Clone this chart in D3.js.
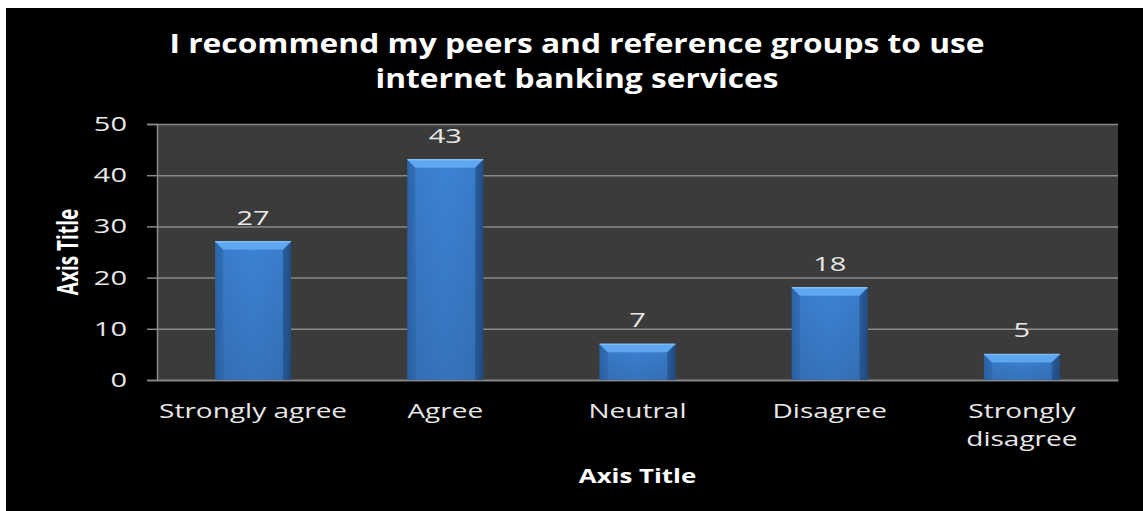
<!DOCTYPE html>
<html>
<head>
<meta charset="utf-8">
<script src="https://cdn.jsdelivr.net/npm/d3@7"></script>
<style>
  html, body { margin: 0; padding: 0; background: #ffffff; }
  svg { display: block; }
</style>
</head>
<body>
<svg id="chart" width="1143" height="511"></svg>
<script>
// Survey responses: recommending internet banking to peers
const categories = ["Strongly agree", "Agree", "Neutral", "Disagree", "Strongly disagree"];
const categoryLines = [["Strongly agree"], ["Agree"], ["Neutral"], ["Disagree"], ["Strongly", "disagree"]];
const counts = [27, 43, 7, 18, 5];
const yTicks = [0, 10, 20, 30, 40, 50];
const titleLines = ["I recommend my peers and reference groups to use", "internet banking services"];
const xAxisTitle = "Axis Title";
const yAxisTitle = "Axis Title";

const W = 1143, H = 511;
const plot = { left: 157, right: 1118, top: 124, bottom: 380 };
const font = "'Open Sans', 'DejaVu Sans', sans-serif";
const labelColor = "#e8e8e8";
const gridColor = "#8a8a8a";

const svg = d3.select("#chart");

// Black chart background with a thin white margin on the top and left
svg.append("rect").attr("x", 0).attr("y", 0).attr("width", W).attr("height", H).attr("fill", "#ffffff");
svg.append("rect").attr("x", 6).attr("y", 8).attr("width", W - 6).attr("height", H - 8).attr("fill", "#000000");

const x = d3.scaleBand()
  .domain(categories)
  .range([plot.left, plot.right])
  .paddingInner(0.605)
  .paddingOuter(0.3025);

const y = d3.scaleLinear().domain([0, 50]).range([plot.bottom, plot.top]);

// Plot area
svg.append("rect")
  .attr("x", plot.left).attr("y", plot.top)
  .attr("width", plot.right - plot.left).attr("height", plot.bottom - plot.top)
  .attr("fill", "#3b3b3b");

// Gradients for the bevelled bars
const defs = svg.append("defs");
const face = defs.append("linearGradient").attr("id", "barFace").attr("x1", 0).attr("x2", 1).attr("y1", 0).attr("y2", 0);
face.append("stop").attr("offset", "0%").attr("stop-color", "#2a5f9f");
face.append("stop").attr("offset", "12%").attr("stop-color", "#3a7dcc");
face.append("stop").attr("offset", "50%").attr("stop-color", "#3c83d5");
face.append("stop").attr("offset", "88%").attr("stop-color", "#3a7dcc");
face.append("stop").attr("offset", "100%").attr("stop-color", "#244f86");
const vshade = defs.append("linearGradient").attr("id", "barShade").attr("x1", 0).attr("x2", 0).attr("y1", 0).attr("y2", 1);
vshade.append("stop").attr("offset", "0%").attr("stop-color", "#000").attr("stop-opacity", 0);
vshade.append("stop").attr("offset", "100%").attr("stop-color", "#000").attr("stop-opacity", 0.12);

// Y axis with gridlines spanning the plot
const yAxis = d3.axisLeft(y).tickValues(yTicks).tickSize(10).tickPadding(10);
const gy = svg.append("g").attr("transform", `translate(${plot.left},0)`).call(yAxis);
gy.select(".domain").attr("stroke", gridColor).attr("stroke-width", 1.5);
gy.selectAll(".tick line").attr("stroke", gridColor).attr("stroke-width", 1.5);
gy.selectAll(".tick text")
  .attr("x", null)
  .attr("transform", "translate(-30,0) scale(1.45,1)")
  .attr("fill", labelColor).attr("font-family", font).attr("font-size", 20);
gy.selectAll(".tick").append("line")
  .attr("x1", 0).attr("x2", plot.right - plot.left)
  .attr("stroke", gridColor).attr("stroke-width", 1.5);

// Bottom axis line
const xAxis = d3.axisBottom(x).tickSize(0).tickFormat("");
const gx = svg.append("g").attr("transform", `translate(0,${plot.bottom})`).call(xAxis);
gx.select(".domain").attr("stroke", gridColor).attr("stroke-width", 1.5);

// Bars
const bw = x.bandwidth();
const bev = 8;
const bars = svg.append("g").selectAll("g").data(categories).join("g");
bars.append("rect")
  .attr("x", d => x(d)).attr("y", (d, i) => y(counts[i]))
  .attr("width", bw).attr("height", (d, i) => y(0) - y(counts[i]))
  .attr("fill", "url(#barFace)");
bars.append("rect")
  .attr("x", d => x(d)).attr("y", (d, i) => y(counts[i]))
  .attr("width", bw).attr("height", (d, i) => y(0) - y(counts[i]))
  .attr("fill", "url(#barShade)");
// top bevel
bars.append("path")
  .attr("d", (d, i) => {
    const x0 = x(d), x1 = x(d) + bw, t = y(counts[i]);
    return `M${x0},${t}L${x1},${t}L${x1 - bev},${t + bev}L${x0 + bev},${t + bev}Z`;
  })
  .attr("fill", "#5ea6ef");
bars.append("path")
  .attr("d", (d, i) => {
    const x0 = x(d), x1 = x(d) + bw, t = y(counts[i]);
    return `M${x0},${t}L${x1},${t}`;
  })
  .attr("stroke", "#7dbcf5").attr("stroke-width", 1.5);
// side bevels
bars.append("path")
  .attr("d", (d, i) => {
    const x0 = x(d), t = y(counts[i]), b = y(0);
    return `M${x0},${t}L${x0 + bev},${t + bev}L${x0 + bev},${b}L${x0},${b}Z`;
  })
  .attr("fill", "#2d67ad").attr("opacity", 0.55);
bars.append("path")
  .attr("d", (d, i) => {
    const x1 = x(d) + bw, t = y(counts[i]), b = y(0);
    return `M${x1},${t}L${x1 - bev},${t + bev}L${x1 - bev},${b}L${x1},${b}Z`;
  })
  .attr("fill", "#1f4c82").attr("opacity", 0.6);

// Value labels (wide face, stretched horizontally)
svg.append("g").selectAll("text").data(categories).join("text")
  .attr("transform", (d, i) => `translate(${x(d) + bw / 2},${y(counts[i]) - 17}) scale(1.45,1)`)
  .attr("text-anchor", "middle")
  .attr("fill", labelColor).attr("font-family", font).attr("font-size", 20)
  .text((d, i) => counts[i]);

// Category labels
const cl = svg.append("g").selectAll("text").data(categories).join("text")
  .attr("transform", d => `translate(${x(d) + bw / 2},418) scale(1.4,1)`)
  .attr("text-anchor", "middle")
  .attr("fill", labelColor).attr("font-family", font).attr("font-size", 20);
cl.selectAll("tspan").data((d, i) => categoryLines[i]).join("tspan")
  .attr("x", 0)
  .attr("dy", (d, j) => j === 0 ? 0 : 28)
  .text(d => d);

// Title
svg.append("text")
  .attr("transform", "translate(577,53) scale(1.22,1)")
  .attr("text-anchor", "middle")
  .attr("fill", "#ffffff").attr("font-family", font).attr("font-weight", "bold").attr("font-size", 26)
  .selectAll("tspan").data(titleLines).join("tspan")
  .attr("x", 0).attr("dy", (d, j) => j === 0 ? 0 : 35)
  .text(d => d);

// Axis titles
svg.append("text")
  .attr("transform", `translate(${(plot.left + plot.right) / 2},483) scale(1.36,1)`)
  .attr("text-anchor", "middle")
  .attr("fill", "#ffffff").attr("font-family", font).attr("font-weight", "bold").attr("font-size", 19)
  .text(xAxisTitle);
svg.append("text")
  .attr("transform", `translate(78,${(plot.top + plot.bottom) / 2}) rotate(-90) scale(0.95,1.4)`)
  .attr("text-anchor", "middle")
  .attr("fill", "#ffffff").attr("font-family", font).attr("font-weight", "bold").attr("font-size", 20)
  .text(yAxisTitle);
</script>
</body>
</html>
